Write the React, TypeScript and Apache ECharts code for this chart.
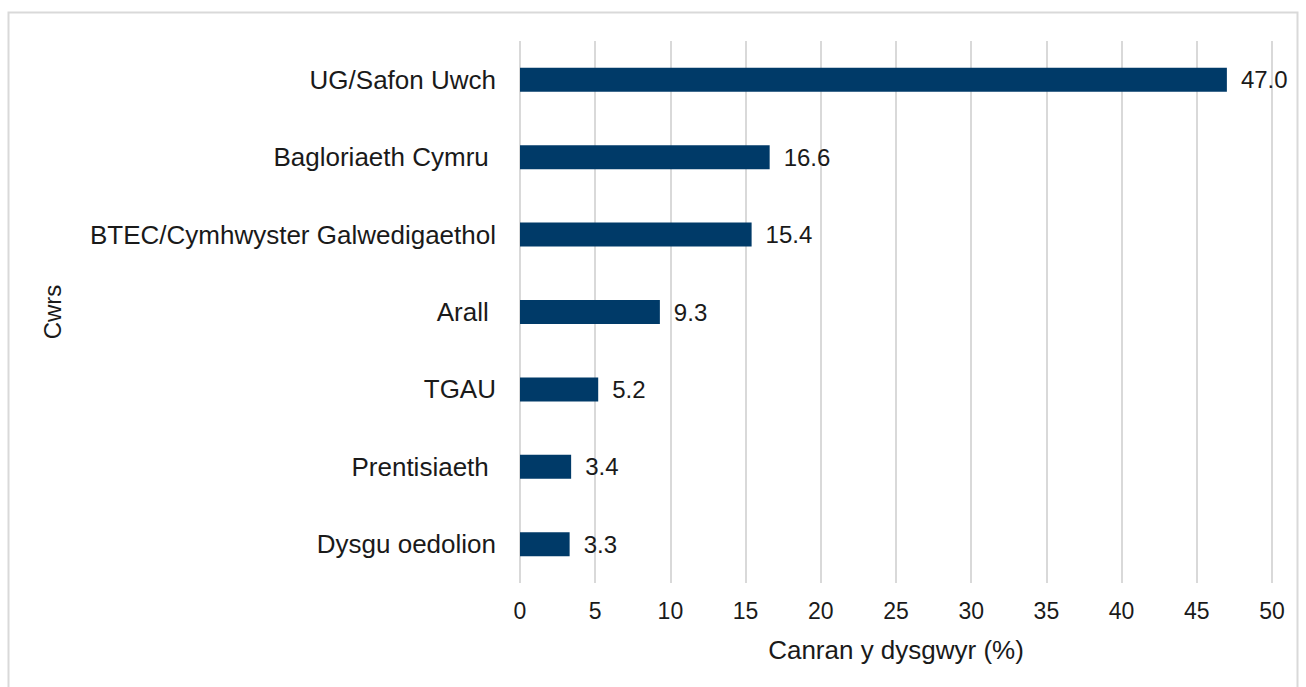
import React, { useEffect, useRef } from "react";
import * as echarts from "echarts";

const categories = [
  "UG/Safon Uwch",
  "Bagloriaeth Cymru ",
  "BTEC/Cymhwyster Galwedigaethol",
  "Arall ",
  "TGAU",
  "Prentisiaeth ",
  "Dysgu oedolion",
];
const values = [47.0, 16.6, 15.4, 9.3, 5.2, 3.4, 3.3];
const xTitle = "Canran y dysgwyr (%)";
const yTitle = "Cwrs";

export default function App() {
  const ref = useRef<HTMLDivElement>(null);
  useEffect(() => {
    if (!ref.current) return;
    const chart = echarts.init(ref.current, null, { renderer: "svg" });
    const font = "'Liberation Sans', Arial, sans-serif";
    const cats = [...categories].reverse();
    const vals = [...values].reverse();
    chart.setOption({
      animation: false,
      backgroundColor: "#ffffff",
      textStyle: { fontFamily: font },
      grid: { left: 520, right: 34, top: 41, bottom: 104, containLabel: false },
      graphic: [
        {
          type: "rect",
          shape: { x: 8.5, y: 12.5, width: 1289, height: 700 },
          style: { fill: "none", stroke: "#d9d9d9", lineWidth: 2 },
          silent: true,
        },
      ],
      xAxis: {
        type: "value",
        min: 0,
        max: 50,
        interval: 5,
        axisLine: { show: false },
        axisTick: { show: false },
        splitLine: { show: true, lineStyle: { color: "#d9d9d9", width: 2 } },
        axisLabel: {
          color: "#1a1a1a",
          fontSize: 23,
          fontFamily: font,
          margin: 16,
          verticalAlign: "top",
        },
        name: xTitle,
        nameLocation: "middle",
        nameGap: 54,
        nameTextStyle: { color: "#1a1a1a", fontSize: 26, fontFamily: font },
      },
      yAxis: {
        type: "category",
        data: cats,
        axisLine: { show: false },
        axisTick: { show: false },
        splitLine: { show: false },
        axisLabel: {
          color: "#1a1a1a",
          fontSize: 26,
          fontFamily: font,
          margin: 24,
        },
        name: yTitle,
        nameLocation: "middle",
        nameGap: 456,
        nameRotate: 90,
        nameTextStyle: { color: "#1a1a1a", fontSize: 24, fontFamily: font },
      },
      series: [
        {
          type: "bar",
          data: vals,
          barWidth: 24,
          itemStyle: { color: "#003a68" },
          label: {
            show: true,
            position: "right",
            distance: 14,
            formatter: (p: any) => Number(p.value).toFixed(1),
            color: "#1a1a1a",
            fontSize: 24,
            fontFamily: font,
          },
        },
      ],
    });
    return () => chart.dispose();
  }, []);
  return (
    <div
      ref={ref}
      style={{ position: "fixed", left: 0, top: 0, width: 1306, height: 687 }}
    />
  );
}
